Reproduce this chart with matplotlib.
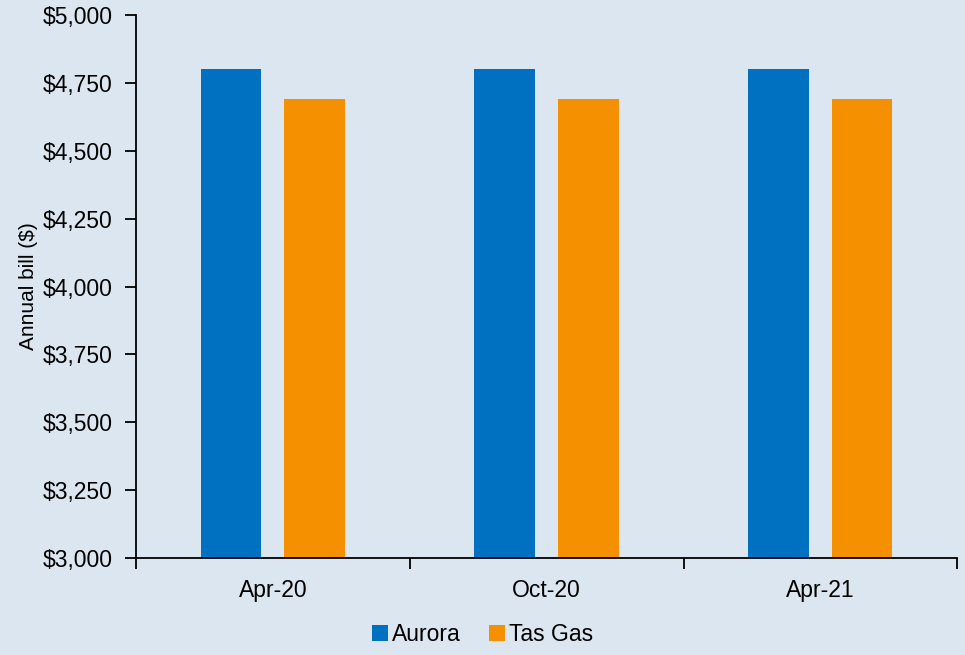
import matplotlib.pyplot as plt
import numpy as np
from matplotlib.ticker import FuncFormatter

# Data
periods = ["Apr-20", "Oct-20", "Apr-21"]
aurora = [4800, 4800, 4800]
tas_gas = [4690, 4690, 4690]

bg = "#dce6f0"
plt.rcParams["font.family"] = ["Liberation Sans", "DejaVu Sans"]

fig = plt.figure(figsize=(9.65, 6.55), dpi=100, facecolor=bg)
ax = fig.add_axes([0.141, 0.148, 0.851, 0.829], facecolor=bg)

x = np.arange(len(periods))
w = 0.222
ax.bar(x - 0.153, aurora, w, color="#0070c0", label="Aurora", zorder=2)
ax.bar(x + 0.152, tas_gas, w, color="#f59100", label="Tas Gas", zorder=2)

ax.set_ylim(3000, 5000)
ax.set_yticks(np.arange(3000, 5001, 250))
ax.yaxis.set_major_formatter(FuncFormatter(lambda v, p: f"${v:,.0f}"))
ax.set_xlim(-0.5, len(periods) - 0.5)
ax.set_xticks(x)
ax.set_xticklabels(periods)
ax.set_xticks(np.arange(-0.5, len(periods)), minor=True)

for s in ["top", "right"]:
    ax.spines[s].set_visible(False)
for s in ["left", "bottom"]:
    ax.spines[s].set_linewidth(1.3)
    ax.spines[s].set_color("black")

ax.tick_params(axis="y", direction="out", length=8, width=1.3, labelsize=16.5, pad=9)
ax.tick_params(axis="x", which="major", length=0, labelsize=16.5, pad=15)
ax.tick_params(axis="x", which="minor", direction="out", length=8, width=1.3)

ax.set_ylabel("Annual bill ($)", fontsize=15, labelpad=3)

fig.legend(loc="lower center", bbox_to_anchor=(0.5, -0.018), ncol=2, frameon=False,
           fontsize=16.5, handlelength=0.7, handleheight=0.7, handletextpad=0.2,
           columnspacing=1.2)

fig.savefig("out.png", dpi=100, facecolor=bg)
